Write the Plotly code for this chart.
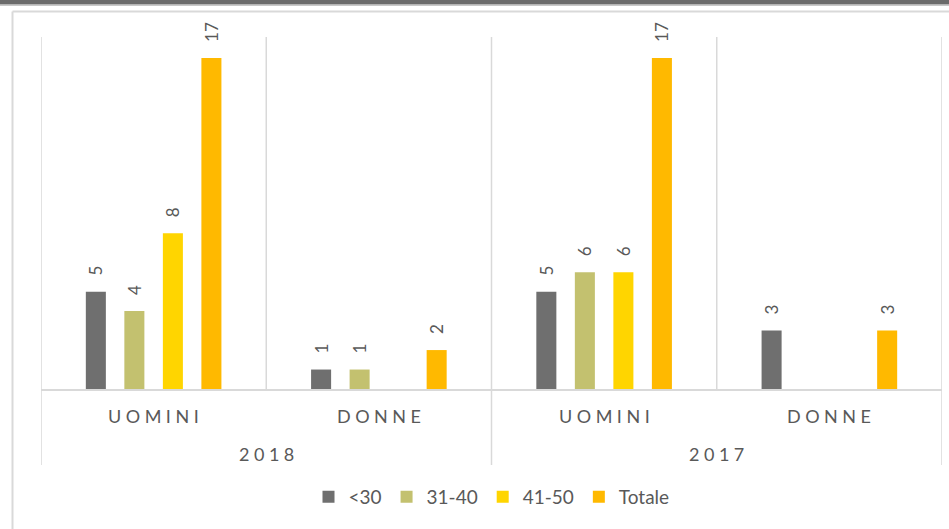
import plotly.graph_objects as go

# ---- data ----
years = ["2018", "2018", "2017", "2017"]
genders = ["UOMINI", "DONNE", "UOMINI", "DONNE"]
series_names = ["<30", "31-40", "41-50", "Totale"]
under30 = [5, 1, 5, 3]
age31_40 = [4, 1, 6, None]
age41_50 = [8, None, 6, None]
totale = [17, 2, 17, 3]
colors = ["#6f6f6f", "#c3c16f", "#ffd500", "#ffb900"]

keys = [f"{y} {g}" for y, g in zip(years, genders)]
values = [under30, age31_40, age41_50, totale]

TXT = "#595959"
LINE = "#d9d9d9"
FONT = "Lato"

fig = go.Figure()
for name, vals, col in zip(series_names, values, colors):
    fig.add_trace(go.Bar(
        name=name, x=keys, y=vals, marker=dict(color=col, line=dict(width=0)),
        text=[("\u00a0\u00a0\u00a0" + str(v)) if v is not None else "" for v in vals],
        textposition="outside", textangle=-90, constraintext="none",
        cliponaxis=False,
        textfont=dict(family=FONT, size=17, color=TXT),
    ))

# plot area pixels: x 41..942, y 37..389
W, H = 949, 529
L, R, T, B = 41, 7, 37, 140
pw, ph = W - L - R, H - T - B

def px(x):
    return (x - L) / pw

def py(y):
    return (H - B - y) / ph

shapes = []
# top dark band
shapes.append(dict(type="rect", xref="paper", yref="paper", x0=px(0), x1=px(W + 5),
                   y0=py(0), y1=py(4.5), fillcolor="#6b6b6b", line=dict(width=0), layer="above"))
shapes.append(dict(type="line", xref="paper", yref="paper", x0=px(0), x1=px(W + 5),
                   y0=py(5.5), y1=py(5.5), line=dict(color="#c8c8c8", width=1)))
# outer border
shapes.append(dict(type="line", xref="paper", yref="paper", x0=px(12.5), x1=px(W + 5),
                   y0=py(11.5), y1=py(11.5), line=dict(color=LINE, width=2)))
shapes.append(dict(type="line", xref="paper", yref="paper", x0=px(12.5), x1=px(12.5),
                   y0=py(11.5), y1=py(H + 5), line=dict(color=LINE, width=2)))
# category separators (outer, extending below labels)
n = len(keys)
for xb in [-0.5, (n / 2) - 0.5, n - 0.5]:
    shapes.append(dict(type="line", xref="x", yref="paper", x0=xb, x1=xb,
                       y0=py(465), y1=1, line=dict(color=LINE, width=1.5), layer="below"))
# inner separators (within plot area)
for xb in [0.5, 2.5]:
    shapes.append(dict(type="line", xref="x", yref="paper", x0=xb, x1=xb,
                       y0=0, y1=1, line=dict(color=LINE, width=1.5), layer="below"))

annotations = []
sp = "\u2009\u2009"
for i, g in enumerate(genders):
    annotations.append(dict(x=i, xref="x", y=py(416), yref="paper", text=sp.join(g),
                            showarrow=False, font=dict(family=FONT, size=18, color=TXT),
                            xanchor="center", yanchor="middle"))
for j, yv in enumerate(["2018", "2017"]):
    annotations.append(dict(x=0.5 + 2 * j, xref="x", y=py(454), yref="paper",
                            text=sp.join(yv), showarrow=False,
                            font=dict(family=FONT, size=18, color=TXT),
                            xanchor="center", yanchor="middle"))

fig.update_layout(
    width=W, height=H, margin=dict(l=L, r=R, t=T, b=B, pad=0),
    paper_bgcolor="white", plot_bgcolor="white",
    barmode="group", bargap=0.316, bargroupgap=0.48,
    font=dict(family=FONT, color=TXT),
    xaxis=dict(type="category", showticklabels=False, showgrid=False, zeroline=False,
               showline=True, linecolor=LINE, linewidth=1.5, ticks="", range=[-0.5, 3.5]),
    yaxis=dict(range=[0, 18.08], visible=False),
    legend=dict(orientation="h", x=0.5, xanchor="center", y=py(497), yanchor="middle",
                font=dict(family=FONT, size=19, color=TXT), itemwidth=30, traceorder="normal"),
    shapes=shapes, annotations=annotations,
)

fig.write_html("out.html")
